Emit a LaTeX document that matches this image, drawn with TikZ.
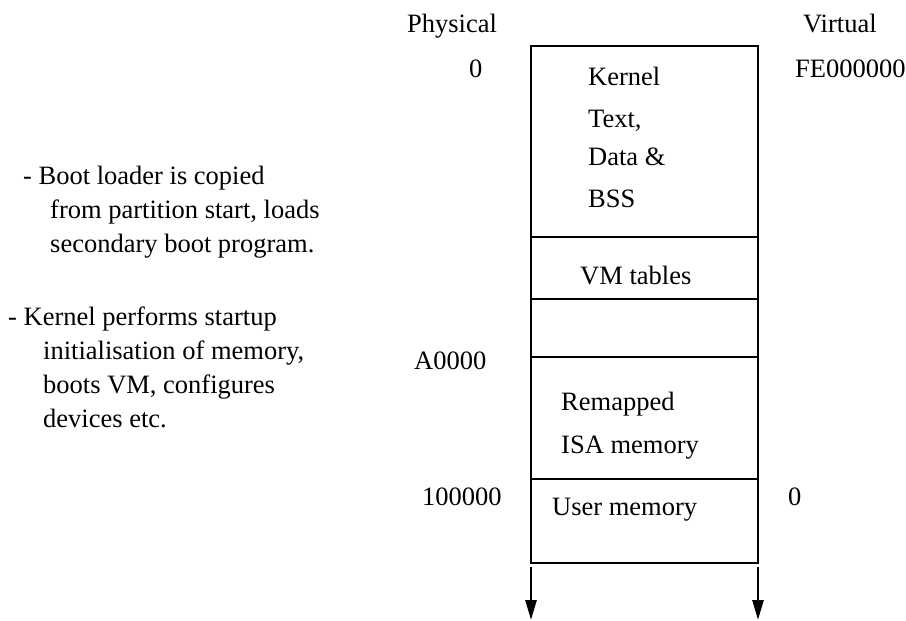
\documentclass[tikz,border=0pt]{standalone}
\usepackage{fontspec}
\setmainfont{Liberation Serif}
\usetikzlibrary{arrows.meta}
\tikzset{
  mem/.style={line width=2.7pt},
  lbl/.style={anchor=base west, inner sep=0pt, font=\fontsize{26.5}{35}\selectfont},
  down/.style={-{Triangle[width=11pt,length=20pt]}, line width=2.7pt},
}
\begin{document}
\begin{tikzpicture}[x=1pt,y=-1pt]
  \useasboundingbox (0,0) rectangle (906,621);
  % memory map
  \coordinate (tl) at (531,46);
  \coordinate (br) at (758,563);
  \draw[mem] (tl) rectangle (br);
  \foreach \y in {237,299,357,479}
    \draw[mem] (531,\y) -- (758,\y);
  % column heads
  \node[lbl] (phys) at (407,32) {Physical};
  \node[lbl] (virt) at (803,32) {Virtual};
  % addresses
  \node[lbl] (p0) at (469,77) {0};
  \node[lbl] (v0) at (795,77) {FE000000};
  \node[lbl] (pisa) at (414,369) {A0000};
  \node[lbl] (puser) at (422,505) {100000};
  \node[lbl] (vuser) at (788,505) {0};
  % regions
  \node[lbl] (kern) at (588,85) {Kernel};
  \node[lbl] (ktext) at (588,127) {Text,};
  \node[lbl] (kdata) at (588,165) {Data \&};
  \node[lbl] (kbss) at (588,207) {BSS};
  \node[lbl] (vmtab) at (580,284) {VM tables};
  \node[lbl] (remap) at (561,410) {Remapped};
  \node[lbl] (isa) at (561,453) {ISA memory};
  \node[lbl] (user) at (552,515) {User memory};
  % notes
  \node[lbl] (boot1) at (23,184) {- Boot loader is copied};
  \node[lbl] (boot2) at (50,218) {from partition start, loads};
  \node[lbl] (boot3) at (50,252) {secondary boot program.};
  \node[lbl] (init1) at (8,325) {- Kernel performs startup};
  \node[lbl] (init2) at (43,359) {initialisation of memory,};
  \node[lbl] (init3) at (43,393) {boots VM, configures};
  \node[lbl] (init4) at (43,427) {devices etc.};
  % growth arrows
  \coordinate (ls) at (531,567);
  \coordinate (le) at (531,620);
  \coordinate (rs) at (758,567);
  \coordinate (re) at (758,620);
  \draw[down] (ls) -- (le);
  \draw[down] (rs) -- (re);
\end{tikzpicture}
\end{document}
